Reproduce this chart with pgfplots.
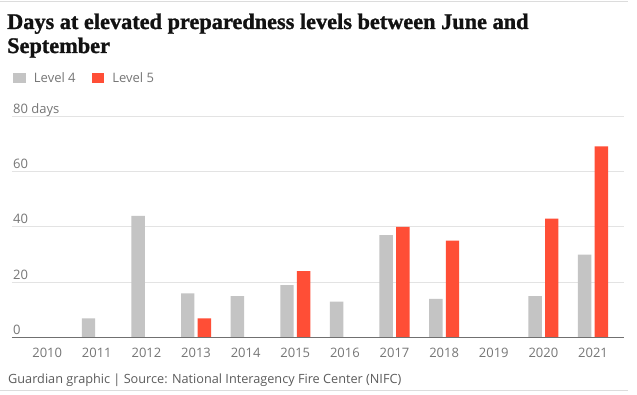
\documentclass[border=0pt]{standalone}
\usepackage{pgfplots}
\pgfplotsset{compat=1.18}
\usepackage{fontspec}
\setmainfont{Open Sans}
\newfontfamily\titlefont{Liberation Serif}[BoldFeatures={FakeBold=1.2}]
\definecolor{lvlfour}{HTML}{C4C4C4}
\definecolor{lvlfive}{HTML}{FF4E36}
\definecolor{ticktext}{HTML}{767676}
\definecolor{gridc}{HTML}{E3E3E3}
\definecolor{basec}{HTML}{707070}
\definecolor{srctext}{HTML}{5C5C5C}
\definecolor{rulec}{HTML}{DCDCDC}
\definecolor{titlec}{HTML}{121212}
\begin{document}
\begin{tikzpicture}
\path[use as bounding box] (0pt,0pt) rectangle (637pt,394pt);
\fill[white] (0pt,0pt) rectangle (637pt,394pt);
\draw[rulec, line width=1pt] (0pt,392pt) -- (628pt,392pt);
\draw[rulec, line width=1pt] (0pt,3.3pt) -- (628pt,3.3pt);
\node[anchor=base west, inner sep=0pt, font=\titlefont\bfseries\fontsize{22.3}{24}\selectfont, text=titlec] at (7pt,365pt) {Days at elevated preparedness levels between June and};
\node[anchor=base west, inner sep=0pt, font=\titlefont\bfseries\fontsize{22.3}{24}\selectfont, text=titlec] at (7pt,341pt) {September};
\node[anchor=base west, inner sep=0pt, font=\fontsize{12.7}{15}\selectfont, text=srctext] at (8pt,11pt) {Guardian graphic | Source: National Interagency Fire Center (NIFC)};
\begin{axis}[
  at={(12pt,56.3pt)}, anchor=south west,
  scale only axis, width=612.3pt, height=221.7pt,
  xmin=-0.709, xmax=11.63, ymin=0, ymax=80,
  ybar=3.3pt, bar width=13.4pt,
  axis line style={draw=none},
  major tick length=0pt,
  xtick={0,1,2,3,4,5,6,7,8,9,10,11},
  xticklabels={2010,2011,2012,2013,2014,2015,2016,2017,2018,2019,2020,2021},
  ytick={0,20,40,60,80}, yticklabels={0,20,40,60,80 days},
  ymajorgrids, grid style={gridc, line width=1pt},
  tick label style={font=\fontsize{13}{15}\selectfont, text=ticktext},
  yticklabel style={anchor=base west, inner sep=0pt, xshift=1pt, yshift=3pt},
  xticklabel style={anchor=base, inner sep=0pt, yshift=-19.3pt},
  /pgf/number format/assume math mode=true,
  legend style={at={(0.0021,1.1714)}, anchor=west, draw=none, fill=none,
    inner sep=0pt, outer sep=0pt, font=\fontsize{13}{15}\selectfont, text=ticktext,
    legend columns=-1, nodes={inner sep=0pt},
    /tikz/every odd column/.append style={column sep=8pt},
    /tikz/every even column/.append style={column sep=16pt}},
  legend image code/.code={\path[#1, draw=none] (0pt,-5.3pt) rectangle (12.7pt,5.3pt);},
]
\addplot[fill=lvlfour, draw=none] coordinates {
 (0,0) (1,7) (2,44) (3,16) (4,15) (5,19) (6,13) (7,37) (8,14) (9,0) (10,15) (11,30)};
\addplot[fill=lvlfive, draw=none] coordinates {
 (0,0) (1,0) (2,0) (3,7) (4,0) (5,24) (6,0) (7,40) (8,35) (9,0) (10,43) (11,69)};
\legend{Level 4, Level 5}
\draw[basec, line width=1pt] (axis cs:-0.709,0) -- (axis cs:11.63,0);
\end{axis}
\end{tikzpicture}
\end{document}
